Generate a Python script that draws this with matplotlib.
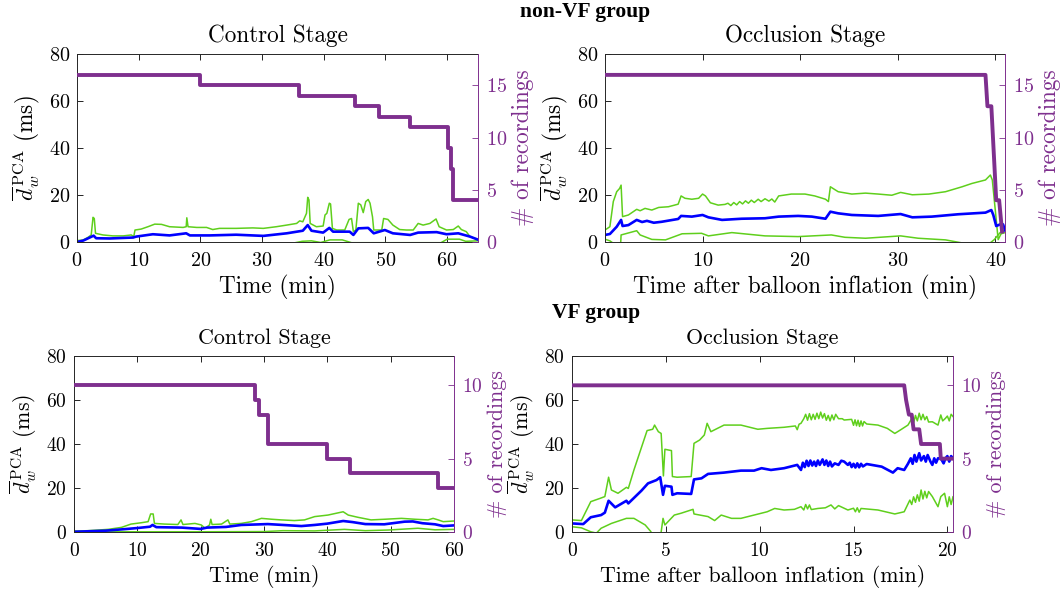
import matplotlib
matplotlib.use("Agg")
import matplotlib.pyplot as plt
import numpy as np

plt.rcParams["font.family"] = ["cmr10", "DejaVu Serif"]
plt.rcParams["mathtext.fontset"] = "cm"
plt.rcParams["axes.formatter.use_mathtext"] = True

BLUE = "#0000FF"
GREEN = "#5FCF1C"
PURPLE = "#7E2F8E"

# ---- non-VF group, control stage (time in min, values in ms) ----
nc_up_t = [0, 1.0, 1.8, 2.3, 2.6, 2.8, 3.0, 4.2, 5.8, 7.5, 8.8, 9.2, 9.4, 10.4, 11.5, 12.6, 13.7, 15,
           17.2, 17.7, 17.8, 18, 19.4, 21, 22, 23.1, 25.8, 28.5, 30.2, 32.3, 34, 35.6, 36.1, 36.6,
           37.2, 37.4, 37.6, 37.8, 38.8, 39.9, 40.2, 40.5, 40.9, 41.1, 41.4, 42.1, 43.4, 44.1, 44.5,
           44.8, 45.2, 45.6, 46, 46.4, 46.8, 47.2, 47.5, 47.9, 48.1, 49.4, 49.7, 50.4, 51.2, 52.3,
           53.4, 54.5, 55.3, 56.1, 57.2, 58.2, 58.7, 59.9, 61, 61.8, 62.3, 63.1, 63.7, 65]
nc_up_v = [0.6, 0.85, 2.0, 3.0, 10.5, 10.0, 3.7, 3.0, 2.6, 2.6, 3.0, 2.3, 5.1, 5.5, 6.5, 7.6, 7.5, 6.5,
           6.2, 6.5, 10.3, 6.5, 6.2, 6.2, 5.3, 5.8, 5.8, 6.0, 5.8, 6.5, 7.2, 7.9, 9.0, 8.6,
           12.2, 19.0, 17.9, 7.9, 6.5, 6.8, 11.5, 12.2, 16.5, 16.2, 5.8, 5.1, 5.1, 9.6, 10.0,
           4.4, 5.1, 16.5, 15.8, 12.5, 17.2, 18.1, 16.5, 10.7, 5.1, 5.1, 10.0, 9.6, 7.2, 5.3,
           5.1, 5.1, 7.9, 7.2, 7.9, 9.8, 6.5, 5.1, 5.3, 6.8, 5.3, 4.4, 2.3, 1.0]
nc_mean_t = [0, 1, 1.5, 2.7, 3.1, 5.3, 9.1, 9.6, 12.3, 15, 17.7, 18.3, 21.5, 25.8, 30.2, 34, 36.6,
             37.4, 38, 39.9, 40.9, 41.5, 44.2, 44.8, 45.6, 47.2, 48.1, 49.9, 51.2, 54, 55.3, 58.3,
             59.9, 61.8, 63.7, 65]
nc_mean_v = [0.0, 0.6, 1.2, 2.7, 1.6, 1.5, 1.9, 2.3, 3.3, 2.8, 3.7, 2.8, 2.8, 3.1, 2.6, 3.7, 4.8,
             7.2, 4.8, 4.0, 6.0, 4.4, 4.4, 3.0, 5.8, 6.0, 3.7, 5.1, 3.7, 3.0, 4.0, 4.2,
             3.3, 3.7, 2.3, 1.0]
nc_lo_t = [0, 1, 35, 36.5, 38, 39.5, 41, 43, 44.5, 59, 60, 62, 63, 65]
nc_lo_v = [0.3, -0.5, -0.5, 0.3, 0.5, -0.2, 0.9, 0.9, -0.3, -0.3, 1.2, 1.2, 0.3, 0.5]
nc_rec_t = [0, 20, 36, 45, 49, 54, 60.2, 60.7, 61.0, 65]
nc_rec_n = [16, 15, 14, 13, 12, 11, 9, 7, 4, 4]

# ---- non-VF group, occlusion stage ----
no_up_t = [0, 0.5, 0.85, 1.2, 1.5, 1.65, 1.8, 2.4, 3.25, 3.6, 4.1, 4.8, 5.5, 6.5, 7.5, 7.8, 8.2, 8.9,
           9.6, 10.0, 10.3, 10.8, 11.6, 12.3, 12.6, 12.9, 13.2, 13.5, 13.8, 14.1, 14.4, 14.7, 15.0,
           15.3, 15.7, 16.0, 16.4, 16.8, 17.1, 17.4, 17.8, 19.1, 20.5, 21.5, 22.6, 22.9, 23.1, 23.9,
           25.3, 26.7, 28.0, 29.4, 30.3, 31.5, 33.2, 34.9, 36.6, 37.6, 39.0, 39.5, 39.7, 39.9, 40.3,
           40.6, 41.0]
no_up_v = [5.1, 6.5, 17.2, 21.4, 22.8, 24.2, 10.8, 11.5, 13.9, 13.3, 14.3, 13.6, 14.7, 15.0, 16.1,
           19.6, 18.6, 18.2, 18.6, 20.4, 19.6, 16.7, 15.7, 16.0, 16.5, 15.5, 16.8, 15.8, 17.2, 16.2,
           17.5, 16.5, 17.8, 16.8, 18.2, 17.2, 18.4, 17.4, 18.3, 17.0, 19.6, 20.4, 20.4, 19.6, 18.2,
           17.2, 23.5, 21.4, 20.4, 20.8, 20.4, 19.9, 21.1, 20.1, 20.4, 21.4, 23.5, 24.9, 26.4, 28.5,
           26.4, 18.0, 1.0, 3.5, 4.0]
no_mean_t = [0, 0.5, 1.2, 1.65, 1.8, 2.4, 3.25, 3.8, 4.3, 5.0, 5.8, 7.5, 7.8, 8.9, 10.0, 10.6, 12.0,
             14.0, 16.4, 17.8, 19.8, 21.2, 22.6, 23.1, 23.9, 25.3, 28.0, 30.3, 31.5, 33.5, 36.2,
             39.0, 39.6, 39.8, 40.1, 40.5, 40.8, 41.0]
no_mean_v = [3.0, 3.4, 6.5, 9.4, 6.8, 7.2, 9.4, 8.5, 9.0, 8.2, 8.6, 9.8, 11.1, 10.8, 11.5, 10.5, 9.4,
             9.9, 10.1, 10.8, 11.1, 10.8, 9.9, 12.9, 12.2, 11.5, 11.1, 11.9, 10.5, 10.8, 11.8,
             12.5, 13.6, 11.5, 6.8, 7.5, 7.5, 5.0]
no_lo_t = [0, 0.5, 1.0, 1.6, 1.65, 3.25, 3.6, 4.8, 6.2, 7.9, 9.9, 10.6, 13.0, 16.4, 19.8, 23.2, 24.6,
           26.7, 30.3, 32.1, 34.9, 36.6, 38.0, 39.3, 39.9, 40.5, 41.0]
no_lo_v = [1.2, 0.5, -1.0, -1.0, 3.0, 4.8, 3.0, 1.1, 0.9, 3.5, 3.7, 2.6, 4.0, 2.6, 2.3, 3.0, 2.0,
           1.6, 2.6, 1.6, 0.9, -0.4, -1.0, -1.0, 1.0, 4.0, 5.0]
no_rec_t = [0, 39.0, 39.2, 39.6, 40.1, 40.4, 40.7]
no_rec_n = [16, 16, 13, 13, 4, 4, 1]

# ---- VF group, control stage ----
vc_up_t = [0, 2.2, 5.4, 7.5, 9, 10.6, 11.7, 12.1, 12.5, 12.7, 14.3, 16.4, 16.9, 17.2, 19.1, 20.1,
           20.7, 21.4, 21.6, 21.8, 23.3, 24.3, 24.6, 26.4, 28, 29.6, 31.2, 32.7, 34.8, 36.4, 38,
           40.1, 42.5, 43.3, 44.8, 46.9, 49.1, 51.7, 53.8, 55.9, 56.7, 57.5, 58.3, 60]
vc_up_v = [0.4, 0.6, 1.2, 2.1, 3.6, 4.2, 4.7, 8.2, 8.2, 3.9, 3.6, 3.4, 5.5, 3.4, 3.9, 3.2,
           1.7, 3.2, 5.8, 3.4, 3.6, 5.5, 3.6, 3.9, 4.7, 6.2, 5.8, 5.5, 5.2, 5.5, 7.0,
           7.7, 9.2, 7.7, 6.7, 5.5, 5.8, 6.2, 5.8, 5.5, 6.2, 5.5, 4.7, 5.0]
vc_mean_t = [0, 5, 8, 10, 12, 12.4, 13, 17, 20, 21, 24, 26.4, 30.6, 33, 35.9, 38, 40, 42.5, 44, 46,
             49, 52.2, 53.5, 55, 57, 58.3, 60]
vc_mean_v = [0.1, 0.6, 1.3, 1.8, 2.4, 3.2, 2.2, 2.0, 1.4, 2.0, 2.3, 3.2, 3.6, 3.2, 2.7, 3.2, 3.8,
             5.0, 4.5, 3.6, 3.5, 4.7, 4.8, 4.0, 3.5, 2.7, 3.0]
vc_lo_t = [0, 10, 20, 30, 33, 38, 42.7, 46, 49.6, 54.3, 57, 60]
vc_lo_v = [0.2, 0.1, 0.1, 0.2, 0.6, 0.5, 1.2, 0.6, 0.9, 1.7, 1.0, 1.2]
vc_rec_t = [0, 28.5, 29.2, 30.6, 40, 43.6, 57.5, 60]
vc_rec_n = [10, 9, 8, 6, 5, 4, 3, 3]

# ---- VF group, occlusion stage ----
vo_up_t = [0, 0.5, 1.0, 1.5, 1.75, 1.95, 2.1, 2.45, 2.9, 3.0, 3.3, 4.0, 4.3, 4.4, 4.6, 4.75, 4.87,
           4.95, 5.3, 5.35, 5.6, 6.35, 6.5, 6.8, 7.05, 7.2, 7.4, 8.1, 9.0, 9.9, 10.4, 11.3, 11.9,
           12.0, 12.1, 12.2, 12.35, 12.45, 12.55, 12.65, 12.75, 12.85, 12.95, 13.05, 13.15, 13.25,
           13.35, 13.45, 13.55, 13.65, 13.75, 13.85, 13.95, 14.05, 14.2, 14.4, 14.5, 14.9, 15.0,
           15.08, 15.16, 15.24, 15.32, 15.4, 15.48, 15.56, 15.7, 16.3, 16.8, 17.2, 17.5, 17.9,
           18.1, 18.2, 18.3, 18.4, 18.5, 18.6, 18.7, 18.8, 18.9, 19.0, 19.2, 19.5, 19.65, 19.75,
           19.9, 20.0, 20.1, 20.2, 20.3]
vo_up_v = [5.5, 5.2, 13.8, 15.3, 16.1, 24.9, 19.1, 17.6, 20.3, 19.8, 28.2, 46.1, 46.7, 48.6, 45.6,
           44.8, 25.5, 37.6, 37.0, 25.2, 24.9, 25.2, 40.3, 41.8, 44.1, 49.4, 45.6, 48.6, 48.6,
           46.7, 47.1, 47.6, 48.2, 46.5, 49.0, 49.4, 51.5, 53.5, 50.8, 53.8, 51.0, 53.5, 51.2,
           54.0, 51.5, 54.5, 51.8, 53.8, 50.8, 53.0, 50.5, 53.2, 51.0, 53.5, 51.5, 51.5, 50.9,
           51.2, 48.5, 51.0, 48.3, 50.8, 48.0, 50.5, 48.2, 50.2, 49.1, 48.6, 47.1, 44.8, 46.4,
           48.6, 51.5, 49.5, 53.0, 50.5, 54.0, 51.0, 53.5, 51.0, 52.5, 50.0, 50.1, 48.6, 53.2,
           50.5, 51.7, 52.7, 50.5, 53.5, 52.5]
vo_mean_t = [0, 0.6, 1.0, 1.55, 1.75, 1.95, 2.3, 2.9, 3.0, 3.7, 4.05, 4.5, 4.7, 4.85, 4.95, 5.3,
             5.35, 5.6, 6.35, 6.5, 6.9, 7.25, 8.1, 9.0, 9.7, 10.1, 10.6, 11.3, 12.0, 12.2, 12.3,
             12.4, 12.5, 12.6, 12.7, 12.8, 12.9, 13.0, 13.1, 13.2, 13.35, 13.45, 13.55, 13.65,
             13.75, 13.85, 14.0, 14.2, 14.35, 14.5, 14.7, 14.8, 14.9, 15.0, 15.1, 15.2, 15.3, 15.4,
             15.5, 15.7, 16.5, 17.1, 17.35, 17.7, 17.9, 18.05, 18.15, 18.25, 18.35, 18.5, 18.6,
             18.75, 18.85, 18.95, 19.1, 19.2, 19.3, 19.4, 19.5, 19.65, 19.8, 19.9, 20.0, 20.1,
             20.2, 20.3]
vo_mean_v = [3.9, 3.6, 6.7, 7.7, 8.8, 14.2, 11.2, 14.2, 13.0, 18.8, 22.1, 23.6, 24.9, 16.9, 21.0,
             20.6, 16.9, 17.6, 17.3, 23.9, 24.4, 26.4, 27.0, 27.9, 27.9, 29.0, 28.2, 29.0, 30.5,
             28.2, 31.5, 29.5, 32.4, 30.0, 32.5, 30.2, 32.0, 30.0, 32.5, 30.5, 33.0, 30.5, 32.5,
             30.0, 32.0, 29.8, 31.2, 30.5, 32.4, 32.0, 30.5, 31.5, 29.5, 31.0, 29.3, 31.2, 29.4,
             31.0, 29.8, 30.9, 29.7, 27.0, 29.0, 28.2, 31.0, 33.5, 31.0, 35.0, 32.0, 35.8, 32.5,
             34.5, 32.0, 35.0, 32.0, 30.5, 33.5, 31.5, 33.5, 33.5, 31.2, 33.5, 34.5, 32.0, 34.5,
             33.5]
vo_lo_t = [0, 0.5, 1.0, 1.3, 1.55, 2.1, 2.9, 3.3, 3.9, 4.2, 4.35, 4.6, 4.75, 4.85, 4.95, 5.45, 5.8,
           6.45, 6.5, 7.25, 7.6, 7.95, 8.5, 9.0, 9.7, 10.4, 10.8, 11.3, 11.85, 12.2, 12.35, 12.45,
           12.55, 12.65, 12.75, 13.1, 13.5, 13.8, 14.0, 14.2, 14.7, 15.0, 15.1, 15.2, 15.3, 15.4,
           16.3, 17.2, 17.7, 18.0, 18.1, 18.2, 18.3, 18.4, 18.5, 18.6, 18.7, 18.8, 18.9, 19.0,
           19.2, 19.5, 19.65, 19.85, 20.0, 20.1, 20.2, 20.3]
vo_lo_v = [2.4, 1.9, 0.1, -0.5, 1.7, 3.9, 6.2, 6.2, 3.2, 0.2, -3.0, -3.0, 0.0, 6.2, 3.2, 7.7, 8.5,
           10.3, 8.2, 7.0, 5.2, 7.7, 6.2, 6.2, 7.7, 9.2, 10.7, 10.0, 10.3, 11.5, 10.0, 12.5,
           10.5, 12.3, 10.2, 10.7, 11.0, 12.3, 10.5, 12.0, 10.0, 10.8, 9.2, 11.0, 9.0, 10.7,
           10.0, 8.2, 9.2, 14.5, 12.5, 16.0, 13.5, 16.9, 14.0, 19.1, 15.0, 18.5, 15.5, 18.4,
           16.1, 11.5, 16.1, 17.6, 11.5, 16.0, 12.5, 16.0]
vo_rec_t = [0, 17.7, 17.8, 17.95, 18.1, 18.2, 18.5, 18.6, 19.6, 19.65, 20.3]
vo_rec_n = [10, 10, 9, 8, 8, 7, 7, 6, 6, 5, 5]

W, H = 1063, 594
fig = plt.figure(figsize=(W / 100, H / 100), dpi=100)


def panel(rect, title, xlabel, xmax, xticks, rmax, rticks,
          up_t, up_v, m_t, m_v, lo_t, lo_v, rec_t, rec_n, steps, lab, tick):
    l, t, r, b = rect
    ax = fig.add_axes([l / W, 1 - b / H, (r - l) / W, (b - t) / H])
    ax.plot(up_t, up_v, color=GREEN, lw=1.1)
    ax.plot(lo_t, lo_v, color=GREEN, lw=1.1)
    ax.plot(m_t, m_v, color=BLUE, lw=1.9)
    ax.set_xlim(0, xmax)
    ax.set_ylim(0, 80)
    ax.set_xticks(xticks)
    ax.set_yticks([0, 20, 40, 60, 80])
    ax.tick_params(axis="both", direction="in", labelsize=tick, length=4, width=0.6,
                   top=True, right=False, pad=5)
    ax.tick_params(axis="x", pad=7)
    ax.spines["right"].set_visible(False)
    for s in ["left", "top", "bottom"]:
        ax.spines[s].set_linewidth(0.7)
        ax.spines[s].set_color("#262626")
    ax.set_title(title, fontsize=lab, pad=8.5)
    ax.set_xlabel(xlabel, fontsize=lab, labelpad=4)
    ax.set_ylabel(r"$\overline{d}_w^{\,\mathrm{PCA}}$ (ms)", fontsize=lab, labelpad=5)

    ax2 = ax.twinx()
    if steps:
        ax2.step(rec_t, rec_n, where="post", color=PURPLE, lw=2.8)
    else:
        ax2.plot(rec_t, rec_n, color=PURPLE, lw=2.8)
    ax2.set_ylim(0, rmax)
    ax2.set_yticks(rticks)
    ax2.tick_params(axis="y", direction="in", labelsize=tick, length=4, width=0.6,
                    colors=PURPLE, pad=6)
    ax2.spines["right"].set_color(PURPLE)
    ax2.spines["right"].set_linewidth(0.7)
    for s in ["left", "top", "bottom"]:
        ax2.spines[s].set_visible(False)
    ax2.set_ylabel("# of recordings", fontsize=lab, color=PURPLE, labelpad=3)
    return ax, ax2


panel((77, 54, 478, 242), "Control Stage", "Time (min)", 65, range(0, 61, 10), 18, [0, 5, 10, 15],
      nc_up_t, nc_up_v, nc_mean_t, nc_mean_v, nc_lo_t, nc_lo_v, nc_rec_t, nc_rec_n, True,
      16.7, 14.5)
panel((605, 54, 1005, 242), "Occlusion Stage", "Time after balloon inflation (min)", 41.0,
      range(0, 41, 10), 18, [0, 5, 10, 15],
      no_up_t, no_up_v, no_mean_t, no_mean_v, no_lo_t, no_lo_v, no_rec_t, no_rec_n, False,
      16.7, 14.5)
panel((74, 356, 454, 532), "Control Stage", "Time (min)", 60, range(0, 61, 10), 12, [0, 5, 10],
      vc_up_t, vc_up_v, vc_mean_t, vc_mean_v, vc_lo_t, vc_lo_v, vc_rec_t, vc_rec_n, True,
      15.8, 14)
panel((572, 356, 953, 532), "Occlusion Stage", "Time after balloon inflation (min)", 20.3,
      range(0, 21, 5), 12, [0, 5, 10],
      vo_up_t, vo_up_v, vo_mean_t, vo_mean_v, vo_lo_t, vo_lo_v, vo_rec_t, vo_rec_n, False,
      15.8, 14)

fig.text(585 / W, 1 - 12 / H, "non-VF group", ha="center", va="center", fontsize=15.5,
         fontweight="bold", family="Liberation Serif")
fig.text(596 / W, 1 - 313 / H, "VF group", ha="center", va="center", fontsize=15.5,
         fontweight="bold", family="Liberation Serif")

fig.savefig("out.png", dpi=100)
